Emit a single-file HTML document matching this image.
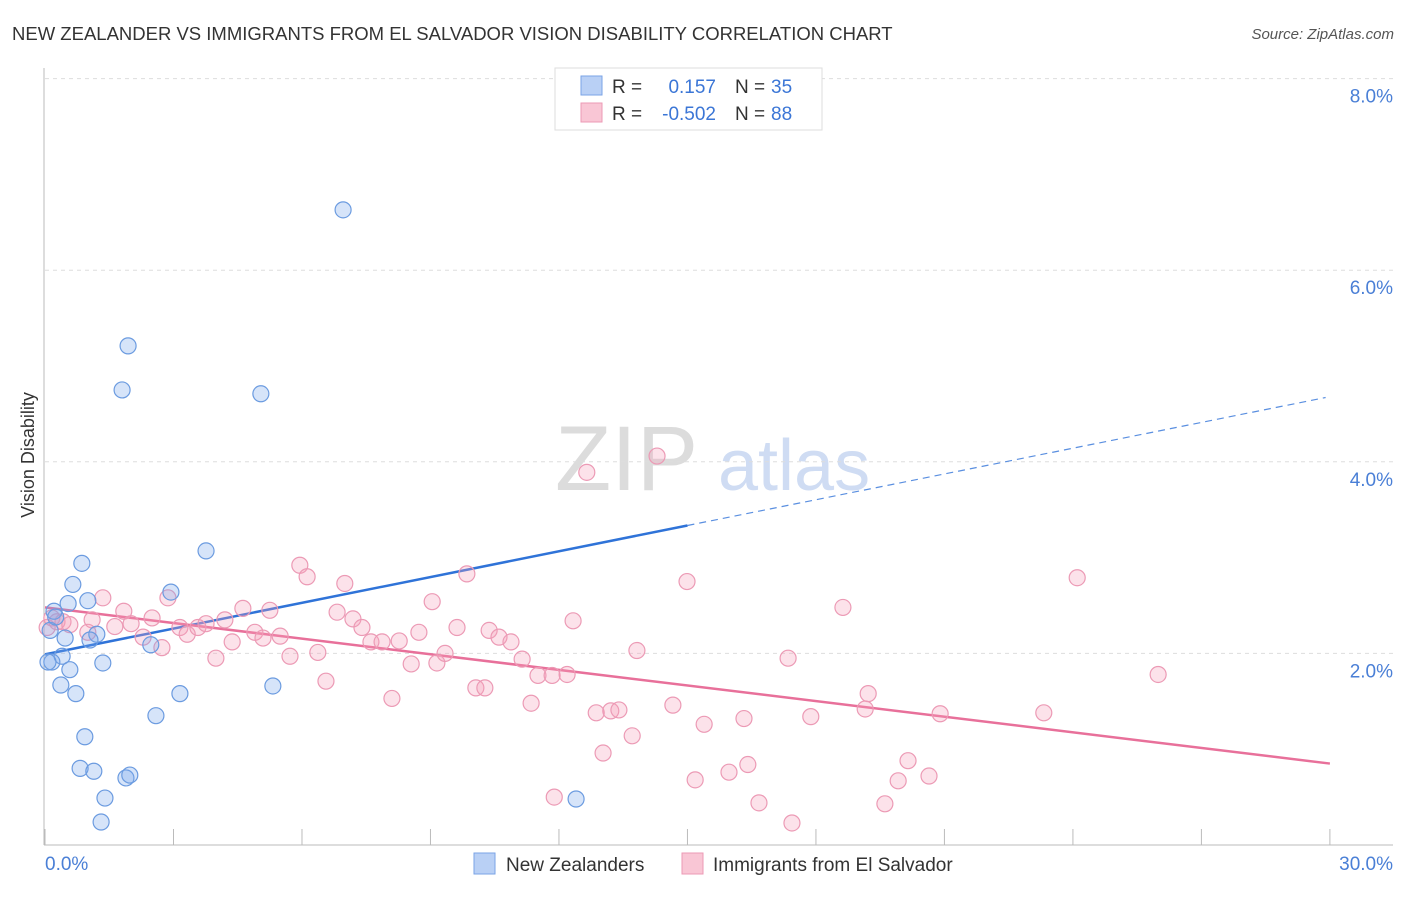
<!DOCTYPE html>
<html><head><meta charset="utf-8">
<style>
body{margin:0;background:#fff;font-family:"Liberation Sans",sans-serif;}
svg text{font-family:"Liberation Sans",sans-serif;}
</style></head>
<body>
<svg id="chart" width="1406" height="892" viewBox="0 0 1406 892" xmlns="http://www.w3.org/2000/svg">
<text x="12" y="40" font-size="18.5" fill="#333">NEW ZEALANDER VS IMMIGRANTS FROM EL SALVADOR VISION DISABILITY CORRELATION CHART</text>
<text x="1394" y="39" font-size="15" fill="#555" font-style="italic" text-anchor="end">Source: ZipAtlas.com</text>
<text x="0" y="0" font-size="18" fill="#333" transform="translate(34,455) rotate(-90)" text-anchor="middle">Vision Disability</text>
<g>
<text x="555" y="490" font-size="92" fill="#dcdcdc" font-family="Liberation Serif">ZIP</text>
<text x="718" y="490" font-size="72" fill="#cfdcf3">atlas</text>
</g>
<g id="grid"></g>
<g id="axes"></g>
<g id="lines"></g>
<g id="pts"></g>
<g>
<rect x="555" y="68" width="267" height="62" fill="#fff" stroke="#ddd"/>
<rect x="581" y="76" width="21" height="19" fill="#b9d0f5" stroke="#7aa3e6"/>
<rect x="581" y="103" width="21" height="19" fill="#f9c6d5" stroke="#ec9ab5"/>
<g font-size="19">
<text x="612" y="93" fill="#333">R =</text>
<text x="716" y="93" fill="#3b76d6" text-anchor="end">0.157</text>
<text x="735" y="93" fill="#333">N =</text>
<text x="771" y="93" fill="#3b76d6">35</text>
</g>
<g font-size="19">
<text x="612" y="120" fill="#333">R =</text>
<text x="716" y="120" fill="#3b76d6" text-anchor="end">-0.502</text>
<text x="735" y="120" fill="#333">N =</text>
<text x="771" y="120" fill="#3b76d6">88</text>
</g>
</g>
<g>
<rect x="474" y="853" width="21" height="21" fill="#b9d0f5" stroke="#7aa3e6"/>
<text x="506" y="871" font-size="19" fill="#333">New Zealanders</text>
<rect x="682" y="853" width="21" height="21" fill="#f9c6d5" stroke="#ec9ab5"/>
<text x="713" y="871" font-size="19" fill="#333">Immigrants from El Salvador</text>
</g>
</svg>
<script>
const blueX=[6.96,1.94,1.80,5.04,3.76,0.86,0.65,2.94,0.54,1.00,0.21,0.12,1.21,1.05,0.47,2.47,0.40,0.16,0.07,1.35,0.58,0.37,0.72,3.15,5.32,2.59,0.93,0.82,1.14,1.89,1.98,1.40,1.31,12.40,0.25];
const blueY=[6.63,5.21,4.75,4.71,3.07,2.94,2.72,2.64,2.52,2.55,2.44,2.24,2.20,2.14,2.16,2.09,1.97,1.91,1.91,1.90,1.83,1.67,1.58,1.58,1.66,1.35,1.13,0.80,0.77,0.70,0.73,0.49,0.24,0.48,2.38];
const pinkX=[0.05,0.16,0.28,0.42,0.58,1.10,1.00,1.35,1.63,1.84,2.01,2.29,2.50,2.73,2.87,3.15,3.32,3.57,3.76,3.99,4.20,4.37,4.62,4.90,5.09,5.25,5.49,5.72,5.95,6.12,6.37,6.56,6.82,7.00,7.19,7.40,7.61,7.87,8.10,8.27,8.55,8.73,9.04,9.15,9.34,9.62,9.85,10.06,10.27,10.37,10.60,10.88,11.14,11.35,11.51,11.84,11.89,12.19,12.33,12.65,12.87,13.03,13.21,13.40,13.71,13.82,14.29,14.66,14.99,15.18,15.39,15.97,16.32,16.41,16.67,17.35,17.44,17.88,18.63,19.15,19.22,19.61,19.92,20.15,20.64,20.90,23.32,24.10];
const pinkY=[2.27,2.37,2.33,2.33,2.30,2.35,2.22,2.58,2.28,2.44,2.31,2.17,2.37,2.06,2.58,2.27,2.20,2.27,2.31,1.95,2.35,2.12,2.47,2.22,2.16,2.45,2.18,1.97,2.92,2.80,2.01,1.71,2.43,2.73,2.36,2.27,2.12,2.12,1.53,2.13,1.89,2.22,2.54,1.90,2.00,2.27,2.83,1.64,1.64,2.24,2.17,2.12,1.94,1.48,1.77,1.77,0.50,1.78,2.34,3.89,1.38,0.96,1.40,1.41,1.14,2.03,4.06,1.46,2.75,0.68,1.26,0.76,1.32,0.84,0.44,1.95,0.23,1.34,2.48,1.42,1.58,0.43,0.67,0.88,0.72,1.37,1.38,2.79];
const pinkX2=[25.99];
const pinkY2=[1.78];
const blueTrend=[1.99,4.68];
const pinkTrend=[2.48,0.85];
const yTicks=[2,4,6,8];
const yTickLabels=["2.0%","4.0%","6.0%","8.0%"];
const xTickVals=[0,3,6,9,12,15,18,21,24,27,30];
const NS='http://www.w3.org/2000/svg';
const sx=v=>45+v*42.83, sy=v=>845-v*95.8;
function mk(tag,attrs,parent){const e=document.createElementNS(NS,tag);for(const k in attrs)e.setAttribute(k,attrs[k]);parent.appendChild(e);return e;}
const grid=document.getElementById('grid'),axes=document.getElementById('axes'),lines=document.getElementById('lines'),pts=document.getElementById('pts');
yTicks.forEach((t,i)=>{
 const l=mk('line',{x1:45,x2:1393,y1:sy(t),y2:sy(t),stroke:'#ddd','stroke-dasharray':'4,4'},grid);
 
 
 const tx=mk('text',{x:1393,y:sy(t)+24,'font-size':19,fill:'#4a7fd6','text-anchor':'end'},axes);
 tx.textContent=yTickLabels[i];
 
 
});
let a=mk('line',{x1:44,x2:44,y1:68,y2:845,stroke:'#bbb'},axes);


a=mk('line',{x1:44,x2:1393,y1:845,y2:845,stroke:'#bbb'},axes);


xTickVals.forEach(v=>{
 const t=mk('line',{x1:sx(v),x2:sx(v),y1:829,y2:845,stroke:'#bbb'},axes);
 
 
});
let tl=mk('text',{x:45,y:870,'font-size':19,fill:'#4a7fd6'},axes);tl.textContent='0.0%';


tl=mk('text',{x:1393,y:870,'font-size':19,fill:'#4a7fd6','text-anchor':'end'},axes);tl.textContent='30.0%';


function drawPts(X,Y,fill,stroke,name){X.forEach((x,i)=>{
 const c=mk('circle',{cx:sx(x),cy:sy(Y[i]),r:8,fill:fill,stroke:stroke,'stroke-width':1.2},pts);
 
 
});}
drawPts(pinkX.concat(pinkX2),pinkY.concat(pinkY2),'rgba(244,160,186,0.3)','#ec9ab5','point-el-salvador');
drawPts(blueX,blueY,'rgba(120,165,235,0.3)','#6b9be0','point-new-zealander');
const bMid=blueTrend[0]+(blueTrend[1]-blueTrend[0])*0.5;
let ln=mk('line',{x1:sx(0),y1:sy(blueTrend[0]),x2:sx(15),y2:sy(bMid),stroke:'#2f73d8','stroke-width':2.5},lines);


ln=mk('line',{x1:sx(15),y1:sy(bMid),x2:sx(29.9),y2:sy(blueTrend[0]+(blueTrend[1]-blueTrend[0])*29.9/30),stroke:'#5a8fe0','stroke-width':1.2,'stroke-dasharray':'7,5'},lines);


ln=mk('line',{x1:sx(0),y1:sy(pinkTrend[0]),x2:sx(30),y2:sy(pinkTrend[1]),stroke:'#e8709a','stroke-width':2.5},lines);


</script>
</body></html>
